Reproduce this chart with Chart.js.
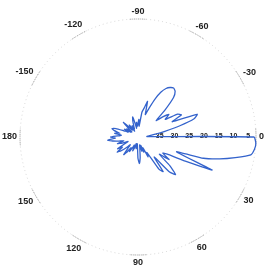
<!DOCTYPE html>
<html>
<head>
<meta charset="utf-8">
<script src="https://cdn.jsdelivr.net/npm/chart.js@4.4.0/dist/chart.umd.min.js"></script>
<style>
html, body { margin: 0; padding: 0; background: #fff; }
canvas { display: block; }
</style>
</head>
<body>
<canvas id="pattern" width="268" height="265"></canvas>
<script>
// angles in degrees, 0 = right, clockwise
var angles = [
  0, 3, 6, 9, 12, 15, 18, 21, 24, 27,
  30, 33, 36, 39, 42, 45, 48, 51, 54, 57,
  60, 63, 66, 69, 72, 75, 78, 81, 84, 87,
  90, 93, 96, 99, 102, 105, 108, 111, 114, 117,
  120, 123, 126, 129, 132, 135, 138, 141, 144, 147,
  150, 153, 156, 159, 162, 165, 168, 171, 174, 177,
  180, 183, 186, 189, 192, 195, 198, 201, 204, 207,
  210, 213, 216, 219, 222, 225, 228, 231, 234, 237,
  240, 243, 246, 249, 252, 255, 258, 261, 264, 267,
  270, 273, 276, 279, 282, 285, 288, 291, 294, 297,
  300, 303, 306, 309, 312, 315, 318, 321, 324, 327,
  330, 333, 336, 339, 342, 345, 348, 351, 354, 357
];

// relative level in dB
var levels = [
  -0.7, 0, -0.3, -1.3, -6.3, -11.3, -16.7, -26, -12.5, -22,
  -28, -30, -27, -30.7, -25.5, -22, -24, -31.3, -25.5, -27,
  -34, -32.5, -36, -34.5, -37, -35, -37.3, -36, -33, -31,
  -32.7, -36.7, -37.7, -36, -37, -37.7, -36, -35, -37, -36,
  -34.3, -35.7, -33.7, -32.3, -35, -36.3, -34.3, -32.7, -31.3, -33.7,
  -32, -35.3, -36.3, -34.3, -32.7, -35, -33.3, -31.3, -29.7, -32.3,
  -30.7, -33, -34.3, -32, -33.7, -31.7, -30.7, -32, -35, -36.3,
  -34.7, -37, -35.3, -37.3, -36, -33, -35.3, -37, -35, -36.3,
  -37.7, -35.7, -37, -36, -34.3, -33, -35.3, -37, -35, -36.3,
  -35.3, -34, -36.3, -31.5, -30, -27.5, -32, -29.5, -26, -23,
  -21, -20, -19.5, -20, -22, -27, -31.7, -29, -27, -29,
  -24.5, -23.5, -27.3, -18.5, -20, -25.3, -30.7, -34, -36.3, -37
];

var angleTicks = [0, 30, 60, 90, 120, 150, 180, -150, -120, -90, -60, -30];
var radialTicks = [-35, -30, -25, -20, -15, -10, -5];

// eigene Beschriftung: Winkel aussen, dB entlang 0 Grad
var polarLabels = {
  id: 'polarLabels',
  beforeDatasetsDraw: function (chart) {
    var scale = chart.scales.r;
    var ctx = chart.ctx;
    var R = scale.drawingArea;
    ctx.save();
    ctx.strokeStyle = '#9a9a9a';
    ctx.lineWidth = 1;
    ctx.setLineDash([1, 1]);
    ctx.fillStyle = '#222';
    ctx.font = 'bold 9px "Liberation Sans", Arial, sans-serif';
    ctx.textAlign = 'center';
    ctx.textBaseline = 'middle';
    angleTicks.forEach(function (a) {
      var deg = a < 0 ? a + 360 : a;
      var idx = angles.indexOf(deg);
      var rad = scale.getIndexAngle(idx) - Math.PI / 2;
      ctx.beginPath();
      ctx.arc(scale.xCenter, scale.yCenter, R, rad - 0.07, rad + 0.07);
      ctx.stroke();
      var txt = String(a);
      var w = ctx.measureText(txt).width;
      var off = 3 + Math.abs(Math.cos(rad)) * w / 2 + Math.abs(Math.sin(rad)) * 4.5;
      var p = scale.getPointPosition(idx, R + off);
      ctx.fillText(txt, p.x, p.y);
    });
    ctx.setLineDash([]);
    ctx.font = 'bold 7px "Liberation Sans", Arial, sans-serif';
    radialTicks.forEach(function (v) {
      var d = scale.getDistanceFromCenterForValue(v);
      ctx.fillText(String(-v), scale.xCenter + d + 7, scale.yCenter - 1);
    });
    ctx.restore();
  }
};

new Chart(document.getElementById('pattern'), {
  type: 'radar',
  data: {
    labels: angles,
    datasets: [{
      data: levels,
      borderColor: '#3463cc',
      borderWidth: 1.3,
      fill: false,
      pointRadius: 0,
      tension: 0.15
    }]
  },
  options: {
    responsive: false,
    animation: false,
    layout: { padding: { left: 20, right: 12, top: 19, bottom: 10 } },
    scales: {
      r: {
        min: -40,
        max: 0,
        startAngle: 90,
        ticks: { display: false, stepSize: 5 },
        pointLabels: { display: false },
        angleLines: { display: false },
        grid: {
          circular: true,
          color: function (c) { return c.tick && c.tick.value === 0 ? 'rgba(170,170,170,0.45)' : 'rgba(0,0,0,0)'; }
        },
        border: { dash: [1, 3] }
      }
    },
    plugins: {
      legend: { display: false },
      tooltip: { enabled: false }
    }
  },
  plugins: [polarLabels]
});
</script>
</body>
</html>
